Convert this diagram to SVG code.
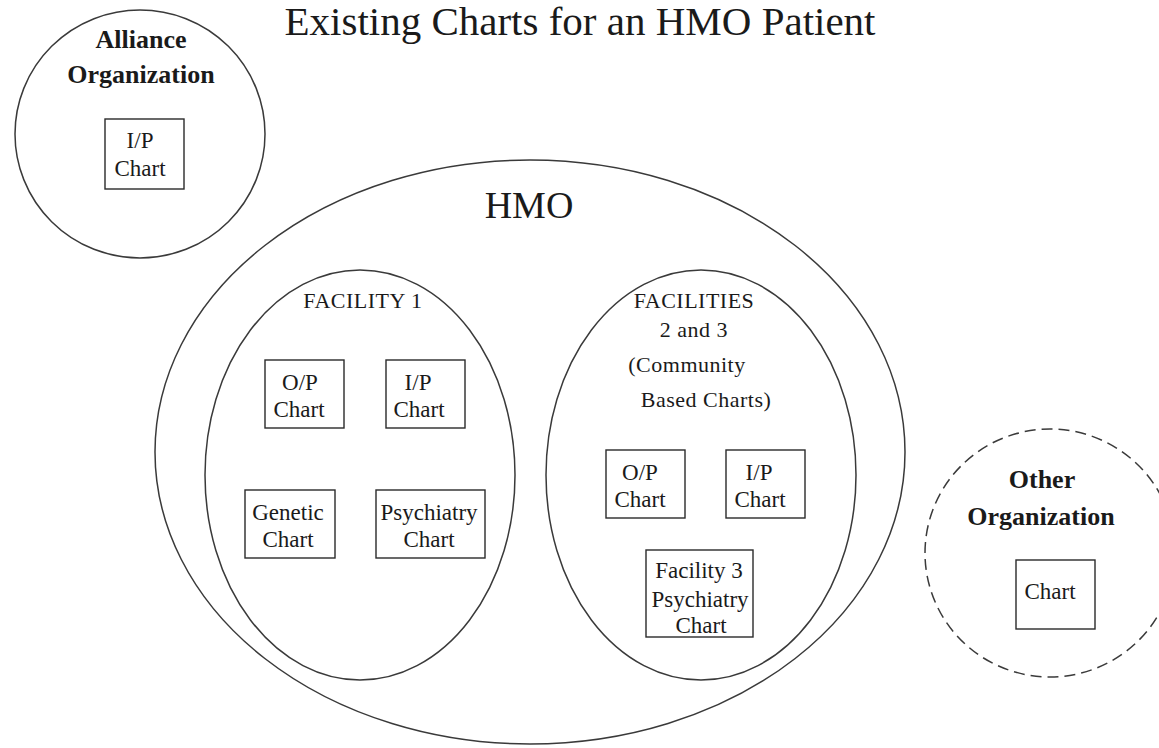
<svg xmlns="http://www.w3.org/2000/svg" width="1159" height="748" viewBox="0 0 1159 748">
  <style>
    .bg { fill: #ffffff; }
    .ring { fill: none; stroke: #3a3a3a; stroke-width: 1.5; }
    .dashed { stroke-dasharray: 11 6; }
    .box { fill: #ffffff; stroke: #2a2a2a; stroke-width: 1.4; }
    text { font-family: "Liberation Serif", "Times New Roman", serif; fill: #1a1a1a; text-anchor: middle; }
    .title { font-size: 41px; }
    .hmo { font-size: 38px; }
    .org { font-size: 26px; font-weight: bold; }
    .fac { font-size: 22px; letter-spacing: 0.5px; }
    .lbl { font-size: 23px; }
  </style>

  <rect class="bg" x="0" y="0" width="1159" height="748"/>

  <text class="title" x="580" y="35">Existing Charts for an HMO Patient</text>

  <!-- Alliance organization -->
  <g id="alliance">
    <ellipse class="ring" cx="140" cy="134" rx="125" ry="124"/>
    <text class="org" x="141" y="48">Alliance</text>
    <text class="org" x="141" y="83">Organization</text>
    <g id="alliance-ip">
      <rect class="box" x="105" y="119" width="79" height="70"/>
      <text class="lbl" x="140" y="148">I/P</text>
      <text class="lbl" x="140" y="176">Chart</text>
    </g>
  </g>

  <!-- HMO -->
  <g id="hmo">
    <ellipse class="ring" cx="530" cy="452" rx="375" ry="292"/>
    <text class="hmo" x="529" y="218">HMO</text>
  </g>

  <!-- Facility 1 -->
  <g id="facility1">
    <ellipse class="ring" cx="360" cy="475" rx="155" ry="205"/>
    <text class="fac" x="363" y="308">FACILITY 1</text>
    <g id="f1-op">
      <rect class="box" x="265" y="360" width="79" height="68"/>
      <text class="lbl" x="300" y="390">O/P</text>
      <text class="lbl" x="299" y="417">Chart</text>
    </g>
    <g id="f1-ip">
      <rect class="box" x="386" y="360" width="79" height="68"/>
      <text class="lbl" x="418" y="390">I/P</text>
      <text class="lbl" x="419" y="417">Chart</text>
    </g>
    <g id="f1-genetic">
      <rect class="box" x="245" y="490" width="90" height="68"/>
      <text class="lbl" x="288" y="520">Genetic</text>
      <text class="lbl" x="288" y="547">Chart</text>
    </g>
    <g id="f1-psych">
      <rect class="box" x="376" y="490" width="109" height="68"/>
      <text class="lbl" x="429" y="520">Psychiatry</text>
      <text class="lbl" x="429" y="547">Chart</text>
    </g>
  </g>

  <!-- Facilities 2 and 3 -->
  <g id="facilities23">
    <ellipse class="ring" cx="701" cy="475" rx="155" ry="205"/>
    <text class="fac" x="694" y="308">FACILITIES</text>
    <text class="fac" x="694" y="337">2 and 3</text>
    <text class="fac" x="687" y="372">(Community</text>
    <text class="fac" x="706" y="407">Based Charts)</text>
    <g id="f23-op">
      <rect class="box" x="606" y="450" width="79" height="68"/>
      <text class="lbl" x="640" y="480">O/P</text>
      <text class="lbl" x="640" y="507">Chart</text>
    </g>
    <g id="f23-ip">
      <rect class="box" x="726" y="450" width="79" height="68"/>
      <text class="lbl" x="759" y="480">I/P</text>
      <text class="lbl" x="760" y="507">Chart</text>
    </g>
    <g id="f3-psych">
      <rect class="box" x="646" y="550" width="107" height="87"/>
      <text class="lbl" x="699" y="578">Facility 3</text>
      <text class="lbl" x="700" y="607">Psychiatry</text>
      <text class="lbl" x="701" y="633">Chart</text>
    </g>
  </g>

  <!-- Other organization -->
  <g id="other">
    <ellipse class="ring dashed" cx="1050" cy="553" rx="125" ry="124"/>
    <text class="org" x="1042" y="488">Other</text>
    <text class="org" x="1041" y="525">Organization</text>
    <g id="other-chart">
      <rect class="box" x="1016" y="560" width="79" height="69"/>
      <text class="lbl" x="1050" y="599">Chart</text>
    </g>
  </g>

  <!-- no connectors in this diagram -->
  <g id="connectors"/>
</svg>
